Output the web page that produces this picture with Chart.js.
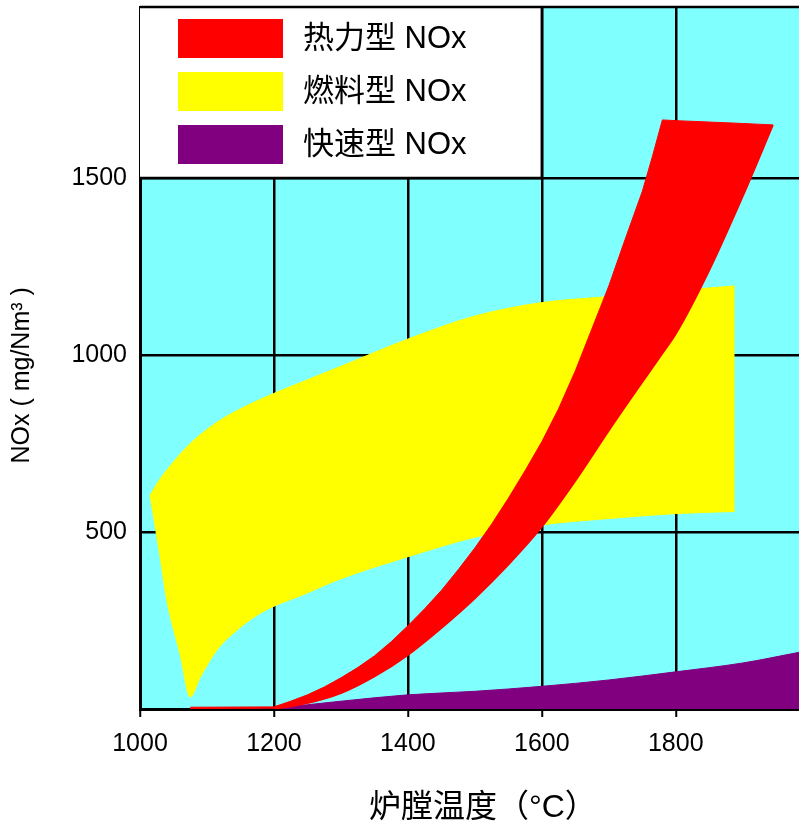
<!DOCTYPE html>
<html lang="zh">
<head>
  <meta charset="UTF-8">
  <title>NOx 生成量与炉膛温度</title>
  <script src="https://cdn.jsdelivr.net/npm/chart.js"></script>
  <style>
    html, body { margin: 0; padding: 0; background: #fff; }
    canvas { display: block; }
  </style>
</head>
<body>

  <canvas id="grafico" width="799" height="828"></canvas>

  <script>
    // Temperaturas (°C) y NOx (mg/Nm3) de cada banda
    const tempTermicoAlto = [1075, 1200, 1225, 1250, 1275, 1300, 1325, 1350, 1375, 1400, 1425, 1450, 1475, 1500, 1525, 1550, 1575, 1600, 1625, 1650, 1675, 1700, 1725, 1750, 1765, 1780, 1800, 1850, 1900, 1945];
    const termicoAlto = [5, 6, 22, 40, 62, 88, 117, 150, 190, 235, 283, 335, 393, 455, 522, 595, 673, 755, 848, 955, 1075, 1195, 1330, 1462, 1560, 1664, 1662, 1658, 1654, 1650];
    const tempTermicoBajo = [1075, 1200, 1250, 1300, 1350, 1400, 1450, 1500, 1550, 1600, 1650, 1700, 1750, 1780, 1800, 1850, 1900, 1945];
    const termicoBajo = [0, 2, 17, 45, 92, 153, 229, 313, 408, 515, 645, 787, 924, 1005, 1060, 1240, 1449, 1650];

    const tempCombustible = [1015, 1030, 1040, 1060, 1075, 1090, 1115, 1140, 1180, 1250, 1300, 1400, 1500, 1600, 1700, 1800, 1888];
    const combustibleAlto = [604, 650, 675, 720, 750, 775, 810, 838, 875, 930, 968, 1045, 1110, 1148, 1165, 1182, 1195];
    const combustibleBajo = [604, 430, 308, 153, 34, 90, 167, 215, 271, 328, 368, 430, 485, 520, 538, 552, 558];

    const tempRapido = [1190, 1250, 1300, 1400, 1500, 1600, 1700, 1800, 1900, 1984];
    const rapido = [0, 12, 22, 40, 50, 64, 82, 105, 130, 160];

    const nombres = ['热力型 NOx', '燃料型 NOx', '快速型 NOx'];
    const colores = ['#ff0000', '#ffff00', '#800080'];

    const xTicks = [1000, 1200, 1400, 1600, 1800];
    const yTicks = [500, 1000, 1500];

    const fuente = "'Liberation Sans', Arial, 'Noto Sans CJK SC', sans-serif";
    Chart.defaults.font.family = fuente;
    Chart.defaults.color = '#000';

    const puntos = (xs, ys) => xs.map((x, i) => ({x, y: ys[i]}));

    function banda(label, color, data, fill, curva = true) {
      return {
        label,
        data,
        borderColor: color,
        backgroundColor: color,
        borderWidth: 1,
        pointRadius: 0,
        cubicInterpolationMode: curva ? 'monotone' : 'default',
        tension: 0,
        fill
      };
    }

    // Fondo cian del área de trazado
    const fondo = {
      id: 'fondo',
      beforeDraw(chart) {
        const {ctx, chartArea: a} = chart;
        ctx.save();
        ctx.fillStyle = '#80ffff';
        ctx.fillRect(a.left, a.top, a.right - a.left, a.bottom - a.top);
        ctx.restore();
      }
    };

    // Recuadro de leyenda en la esquina superior izquierda
    const leyenda = {
      id: 'leyenda',
      beforeDatasetsDraw(chart) {
        const {ctx, chartArea: a, scales: {x, y}} = chart;
        const der = x.getPixelForValue(1600);
        const inf = y.getPixelForValue(1500);
        ctx.save();
        ctx.fillStyle = '#fff';
        ctx.fillRect(a.left, a.top, der - a.left, inf - a.top);
        ctx.strokeStyle = '#000';
        ctx.lineWidth = 2.5;
        ctx.beginPath();
        ctx.moveTo(a.left, inf); ctx.lineTo(der, inf); ctx.lineTo(der, a.top);
        ctx.moveTo(a.left, a.top); ctx.lineTo(a.right, a.top);
        ctx.stroke();

        ctx.font = '31px ' + fuente;
        ctx.textBaseline = 'middle';
        nombres.forEach((n, i) => {
          const top = a.top + 12 + i * 53;
          ctx.fillStyle = colores[i];
          ctx.fillRect(a.left + 38, top, 105, 39);
          ctx.fillStyle = '#000';
          ctx.fillText(n, a.left + 163, top + 20);
        });
        ctx.restore();
      }
    };

    // tramo inicial del borde inferior del rojo, más oscuro sobre el eje
    const rojoBajo = banda(nombres[0], colores[0], puntos(tempTermicoBajo, termicoBajo), false);
    rojoBajo.segment = { borderColor: c => c.p0DataIndex === 0 ? '#9a0a0a' : undefined };
    rojoBajo.borderWidth = 2;

    const ctx = document.getElementById('grafico').getContext('2d');
    new Chart(ctx, {
      type: 'line',
      data: {
        datasets: [
          banda(nombres[0], colores[0], puntos(tempTermicoAlto, termicoAlto), '+1', false),
          rojoBajo,
          banda(nombres[1], colores[1], puntos(tempCombustible, combustibleAlto), '+1'),
          banda(nombres[1], colores[1], puntos(tempCombustible, combustibleBajo), false),
          banda(nombres[2], colores[2], puntos(tempRapido, rapido), 'origin')
        ]
      },
      options: {
        responsive: false,
        animation: false,
        layout: { padding: { top: 7, right: 0, left: 0, bottom: 0 } },
        plugins: {
          legend: { display: false },
          tooltip: { enabled: false }
        },
        scales: {
          x: {
            type: 'linear',
            min: 1000,
            max: 1984,
            afterBuildTicks: s => { s.ticks = xTicks.map(v => ({value: v})); },
            afterFit: s => { s.height = 119; s.paddingLeft = 0; s.paddingRight = 0; },
            grid: { color: '#000', lineWidth: 2.5, drawTicks: true, tickLength: 8, tickColor: '#000', tickWidth: 2 },
            border: { color: '#000', width: 3 },
            ticks: { font: { size: 25 }, padding: 12, maxRotation: 0, callback: v => String(v) },
            title: { display: true, text: '\u00a0\u00a0\u00a0炉膛温度（°C）', font: { size: 32 }, padding: { top: 0, bottom: 1 } }
          },
          y: {
            min: 0,
            max: 1983,
            afterBuildTicks: s => { s.ticks = yTicks.map(v => ({value: v})); },
            afterFit: s => { s.width = 140; s.paddingTop = 0; s.paddingBottom = 0; },
            grid: { color: '#000', lineWidth: 2.5, drawTicks: false },
            border: { color: '#000', width: 3 },
            ticks: { font: { size: 25 }, padding: 13, callback: v => String(v) },
            title: { display: true, text: 'NOx ( mg/Nm³ )\u00a0\u00a0\u00a0\u00a0\u00a0', font: { size: 25 }, padding: { top: 7, bottom: 0 } }
          }
        }
      },
      plugins: [fondo, leyenda]
    });
  </script>

</body>
</html>
